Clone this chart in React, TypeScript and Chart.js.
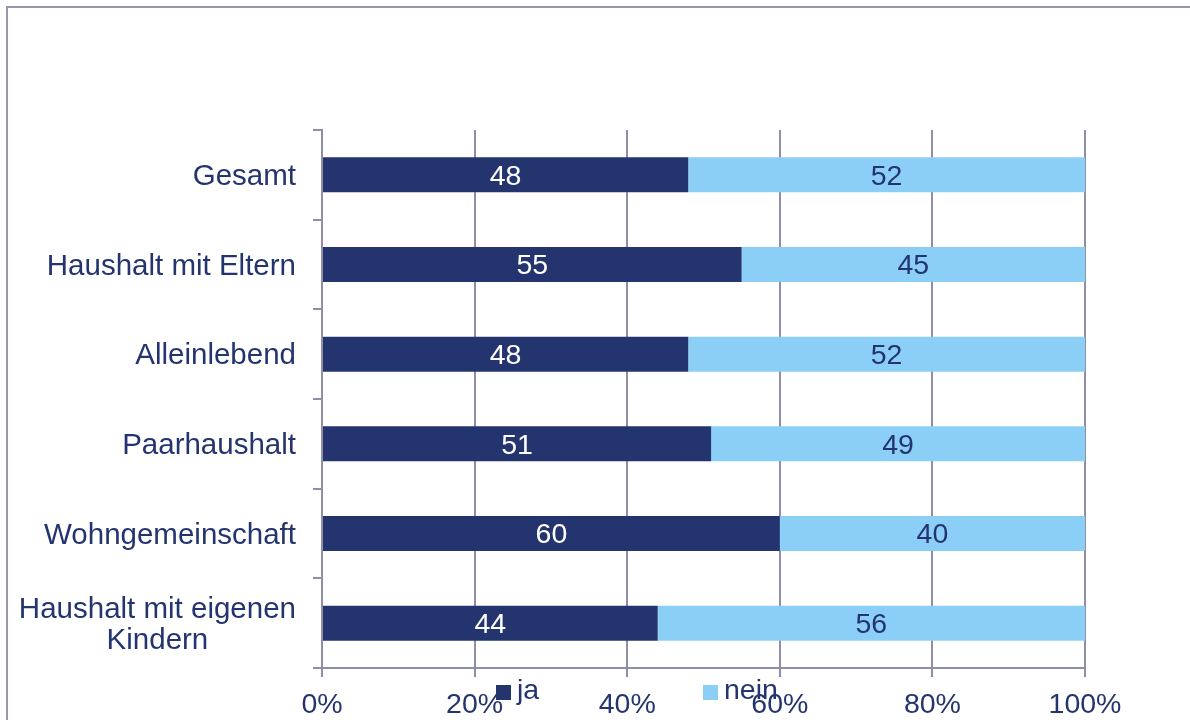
import React, { useEffect, useRef } from "react";
import { Chart, registerables } from "chart.js";

Chart.register(...registerables);

const categories: string[][] = [
  ["Gesamt"],
  ["Haushalt mit Eltern"],
  ["Alleinlebend"],
  ["Paarhaushalt"],
  ["Wohngemeinschaft"],
  ["Haushalt mit eigenen", "Kindern"],
];
const jaValues = [48, 55, 48, 51, 60, 44];
const neinValues = [52, 45, 52, 49, 40, 56];
const seriesLabels = ["ja", "nein"];
const xTicks = [0, 20, 40, 60, 80, 100];

const NAVY = "#24346f";
const LIGHT = "#8ccff6";
const LINE = "#8e8ea8";
const TEXT = "#24346f";
const FONT = "Arial, 'Liberation Sans', sans-serif";

const framePlugin = {
  id: "frame",
  beforeDraw(chart: any) {
    const ctx = chart.ctx;
    ctx.save();
    ctx.strokeStyle = "#9696ae";
    ctx.lineWidth = 2;
    ctx.beginPath();
    ctx.moveTo(7, 730);
    ctx.lineTo(7, 7);
    ctx.lineTo(1195, 7);
    ctx.stroke();
    ctx.restore();
  },
};

const labelsPlugin = {
  id: "customLabels",
  afterDraw(chart: any) {
    const ctx = chart.ctx;
    const yScale = chart.scales.y;
    ctx.save();
    // y category labels
    ctx.font = `29.5px ${FONT}`;
    ctx.fillStyle = TEXT;
    ctx.textAlign = "center";
    ctx.textBaseline = "middle";
    const rightX = 296;
    const lineH = 31;
    categories.forEach((lines, i) => {
      const yc = yScale.getPixelForValue(i);
      const maxW = Math.max(...lines.map((l) => ctx.measureText(l).width));
      const cx = rightX - maxW / 2;
      const startY = yc - ((lines.length - 1) * lineH) / 2;
      lines.forEach((l, j) => ctx.fillText(l, cx, startY + j * lineH + 2));
    });
    // data labels
    ctx.font = `28.5px ${FONT}`;
    chart.data.datasets.forEach((ds: any, di: number) => {
      const meta = chart.getDatasetMeta(di);
      meta.data.forEach((bar: any, i: number) => {
        const { x, base, y } = bar.getProps(["x", "base", "y"], true);
        ctx.fillStyle = di === 0 ? "#ffffff" : TEXT;
        ctx.fillText(String(ds.data[i]), (x + base) / 2, y + 2);
      });
    });
    // legend
    const legendX = [496, 703];
    chart.data.datasets.forEach((ds: any, di: number) => {
      const lx = legendX[di];
      ctx.fillStyle = ds.backgroundColor;
      ctx.fillRect(lx, 685, 15, 15);
      ctx.fillStyle = TEXT;
      ctx.textAlign = "left";
      ctx.fillText(ds.label, lx + 21, 691);
    });
    ctx.restore();
  },
};

export default function App() {
  const ref = useRef<HTMLCanvasElement>(null);
  useEffect(() => {
    if (!ref.current) return;
    const chart = new Chart(ref.current, {
      type: "bar",
      data: {
        labels: categories.map((c) => c.join(" ")),
        datasets: [
          {
            label: seriesLabels[0],
            data: jaValues,
            backgroundColor: NAVY,
            categoryPercentage: 1,
            barPercentage: 0.39,
          },
          {
            label: seriesLabels[1],
            data: neinValues,
            backgroundColor: LIGHT,
            categoryPercentage: 1,
            barPercentage: 0.39,
          },
        ],
      },
      options: {
        indexAxis: "y",
        animation: false,
        responsive: false,
        maintainAspectRatio: false,
        layout: { padding: { top: 130, right: 105, left: 0, bottom: 0 } },
        plugins: {
          legend: { display: false },
          tooltip: { enabled: false },
        },
        scales: {
          x: {
            stacked: true,
            min: 0,
            max: 100,
            afterBuildTicks: (scale: any) => {
              scale.ticks = xTicks.map((v) => ({ value: v }));
            },
            afterFit: (scale: any) => {
              scale.height = 52;
            },
            grid: {
              color: LINE,
              lineWidth: 2,
              tickLength: 9,
              drawTicks: true,
            },
            border: { color: LINE, width: 2 },
            ticks: {
              color: TEXT,
              font: { family: FONT, size: 28.5 },
              padding: 11,
              maxRotation: 0,
              callback: (v: any) => `${v}%`,
            },
          },
          y: {
            stacked: true,
            afterFit: (scale: any) => {
              scale.width = 322;
            },
            grid: {
              drawOnChartArea: false,
              color: LINE,
              lineWidth: 2,
              tickLength: 9,
              offset: true,
            },
            border: { color: LINE, width: 2 },
            ticks: { display: false },
          },
        },
      },
      plugins: [framePlugin, labelsPlugin],
    });
    return () => chart.destroy();
  }, []);
  return (
    <div style={{ position: "absolute", left: 0, top: 0, width: 1190, height: 720, background: "#fff" }}>
      <canvas ref={ref} width={1190} height={720} style={{ display: "block" }} />
    </div>
  );
}
